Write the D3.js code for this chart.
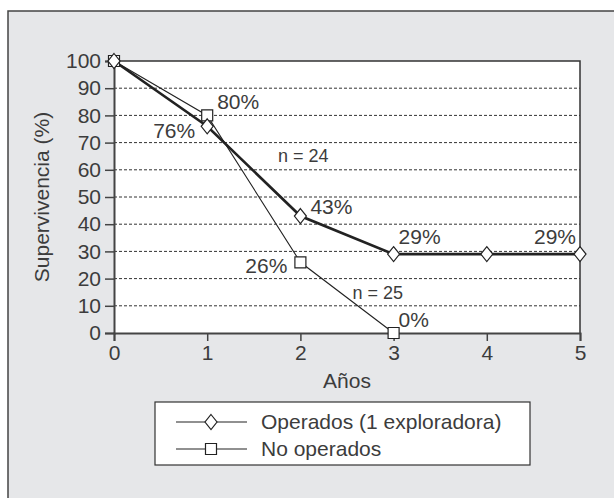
<!DOCTYPE html>
<html>
<head>
<meta charset="utf-8">
<script src="https://cdn.jsdelivr.net/npm/d3@7"></script>
<style>
  body { margin: 0; background: #fff; }
  text { font-family: "Liberation Sans", Arial, sans-serif; fill: #3c3c3c; }
</style>
</head>
<body>
<div id="chart"></div>
<script>
// data
var years = [0, 1, 2, 3, 4, 5];
var operados = [100, 76, 43, 29, 29, 29];
var noOperados = [100, 80, 26, 0];
var yTicks = [0, 10, 20, 30, 40, 50, 60, 70, 80, 90, 100];
var seriesNames = ["Operados (1 exploradora)", "No operados"];

// point labels: [series, index, text, dx, dy, anchor]
var pointLabels = [
  ["op", 1, "76%", -12, 12, "end"],
  ["no", 1, "80%", 10, -6, "start"],
  ["op", 2, "43%", 10, -2, "start"],
  ["no", 2, "26%", -13, 11, "end"],
  ["op", 3, "29%", 5, -10, "start"],
  ["op", 5, "29%", -4, -10, "end"],
  ["no", 3, "0%", 5, -6, "start"]
];

var W = 614, H = 498;
var margin = {top: 61, right: 34, bottom: 165, left: 114},
    width = 580 - margin.left,
    height = 333 - margin.top;

var svg = d3.select("#chart")
  .append("svg")
    .attr("width", W)
    .attr("height", H);

// outer panel
svg.append("rect")
  .attr("x", 8).attr("y", 11)
  .attr("width", W).attr("height", H)
  .attr("fill", "#e6e7e9")
  .attr("stroke", "#444")
  .attr("stroke-width", 1.5);

var g = svg.append("g")
  .attr("transform", "translate(" + margin.left + "," + margin.top + ")");

var x = d3.scaleLinear().domain([0, 5]).range([0, width]);
var y = d3.scaleLinear().domain([0, 100]).range([height, 0]);

// plot background
g.append("rect")
  .attr("width", width).attr("height", height)
  .attr("fill", "#fff");

// dashed grid
g.selectAll(".grid")
  .data(yTicks.filter(function(d) { return d > 0 && d < 100; }))
  .enter()
  .append("line")
    .attr("x1", 0).attr("x2", width)
    .attr("y1", function(d) { return y(d); })
    .attr("y2", function(d) { return y(d); })
    .attr("stroke", "#333")
    .attr("stroke-width", 1)
    .attr("stroke-dasharray", "3,2");

// top and right border
g.append("path")
  .attr("d", "M0," + y(100) + "H" + x(5) + "V" + y(0))
  .attr("fill", "none")
  .attr("stroke", "#333")
  .attr("stroke-width", 1.5);

// Y axis
var yAxis = g.append("g")
  .call(d3.axisLeft(y).tickValues(yTicks).tickSize(9).tickPadding(4));

// X axis
var xAxis = g.append("g")
  .attr("transform", "translate(0," + height + ")")
  .call(d3.axisBottom(x).tickValues(years).tickSize(8).tickPadding(4).tickFormat(d3.format("d")));

[yAxis, xAxis].forEach(function(a) {
  a.select(".domain").attr("stroke", "#444").attr("stroke-width", 2);
  a.selectAll(".tick line").attr("stroke", "#444").attr("stroke-width", 1.5);
  a.selectAll("text")
    .style("font-family", "Liberation Sans, Arial, sans-serif")
    .style("font-size", "21px")
    .attr("fill", "#3c3c3c");
});

// axis labels
svg.append("text")
  .attr("transform", "translate(49," + (margin.top + height / 2) + ")rotate(-90)")
  .attr("text-anchor", "middle")
  .style("font-size", "21px")
  .text("Supervivencia (%)");

svg.append("text")
  .attr("x", margin.left + width / 2)
  .attr("y", 388)
  .attr("text-anchor", "middle")
  .style("font-size", "21px")
  .text("Años");

// lines
var line = d3.line()
  .x(function(d, i) { return x(years[i]); })
  .y(function(d) { return y(d); });

g.append("path")
  .datum(noOperados)
  .attr("d", line)
  .attr("fill", "none")
  .attr("stroke", "#222")
  .attr("stroke-width", 1.1);

g.append("path")
  .datum(operados)
  .attr("d", line)
  .attr("fill", "none")
  .attr("stroke", "#222")
  .attr("stroke-width", 2.6);

var diamond = "M0,-7.5L6,0L0,7.5L-6,0Z";
var square = "M-5.5,-5.5H5.5V5.5H-5.5Z";

g.selectAll(".sq")
  .data(noOperados)
  .enter()
  .append("path")
    .attr("d", square)
    .attr("transform", function(d, i) { return "translate(" + x(years[i]) + "," + y(d) + ")"; })
    .attr("fill", "#fff")
    .attr("stroke", "#222")
    .attr("stroke-width", 1.2);

g.selectAll(".dm")
  .data(operados)
  .enter()
  .append("path")
    .attr("d", diamond)
    .attr("transform", function(d, i) { return "translate(" + x(years[i]) + "," + y(d) + ")"; })
    .attr("fill", "#fff")
    .attr("stroke", "#222")
    .attr("stroke-width", 1.2);

// value labels
g.selectAll(".pl")
  .data(pointLabels)
  .enter()
  .append("text")
    .attr("x", function(d) { return x(years[d[1]]) + d[3]; })
    .attr("y", function(d) { var v = d[0] == "op" ? operados[d[1]] : noOperados[d[1]]; return y(v) + d[4]; })
    .attr("text-anchor", function(d) { return d[5]; })
    .style("font-size", "21px")
    .text(function(d) { return d[2]; });

// n labels
g.append("text")
  .attr("x", x(2.03)).attr("y", y(63))
  .attr("text-anchor", "middle")
  .style("font-size", "18px")
  .text("n = 24");

g.append("text")
  .attr("x", x(2.83)).attr("y", y(12.5))
  .attr("text-anchor", "middle")
  .style("font-size", "18px")
  .text("n = 25");

// legend
var leg = svg.append("g");
leg.append("rect")
  .attr("x", 155).attr("y", 402)
  .attr("width", 375).attr("height", 63)
  .attr("fill", "#fff")
  .attr("stroke", "#333")
  .attr("stroke-width", 1.2);

[diamond, square].forEach(function(shape, i) {
  var ly = 422 + i * 27;
  leg.append("line")
    .attr("x1", 176).attr("x2", 247)
    .attr("y1", ly).attr("y2", ly)
    .attr("stroke", "#222").attr("stroke-width", 1.2);
  leg.append("path")
    .attr("d", shape)
    .attr("transform", "translate(211," + ly + ")")
    .attr("fill", "#fff")
    .attr("stroke", "#222")
    .attr("stroke-width", 1.2);
  leg.append("text")
    .attr("x", 261).attr("y", ly + 7)
    .style("font-size", "21px")
    .text(seriesNames[i]);
});
</script>
</body>
</html>
